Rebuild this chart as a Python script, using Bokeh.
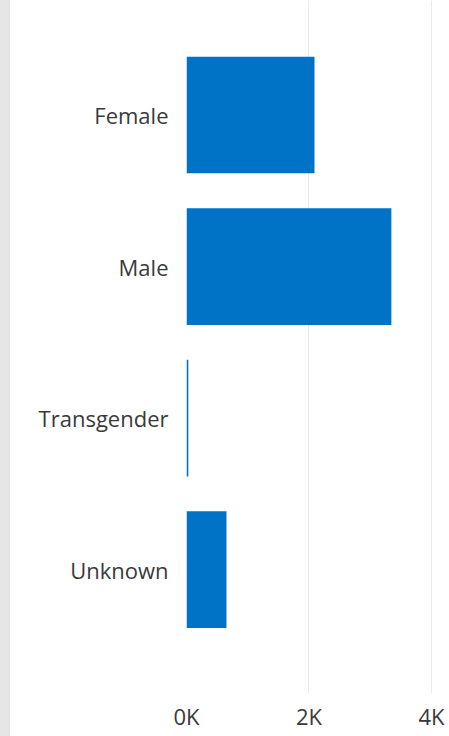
from bokeh.plotting import figure
from bokeh.models import Range1d, FixedTicker, ColumnDataSource
from bokeh.embed import file_html
from bokeh.resources import INLINE

categories = ["Female", "Male", "Transgender", "Unknown"]
counts = [2090, 3345, 30, 653]
x_ticks = [0, 2000, 4000]
x_tick_labels = ["0K", "2K", "4K"]

pos = list(range(len(categories)))
src = ColumnDataSource(dict(y=pos, right=counts, cat=categories))

p = figure(width=449, height=736, output_backend="svg", toolbar_location=None,
           x_range=Range1d(0, 4294), y_range=Range1d(3.818, -0.756),
           min_border_left=186, min_border_right=0, min_border_top=0, min_border_bottom=43)
p.outline_line_color = None
p.background_fill_color = "white"
p.border_fill_color = None
p.styles = {"background": "linear-gradient(to right, #e6e6e6 0px, #e6e6e6 10px, #ffffff 10px)"}

p.hbar(y="y", left=0, right="right", height=0.77, source=src,
       fill_color="#0073C6", line_color=None)

# x axis
p.xaxis.ticker = FixedTicker(ticks=x_ticks)
p.xaxis.major_label_overrides = {t: l for t, l in zip(x_ticks, x_tick_labels)}
p.xaxis.axis_line_color = None
p.xaxis.major_tick_line_color = None
p.xaxis.minor_tick_line_color = None
p.xaxis.major_tick_out = 0
p.xaxis.major_tick_in = 0
p.xaxis.major_label_standoff = 7
p.xaxis.major_label_text_font = "Open Sans"
p.xaxis.major_label_text_font_size = "22px"
p.xaxis.major_label_text_color = "#3a3a3a"

# y axis
p.yaxis.ticker = FixedTicker(ticks=pos)
p.yaxis.major_label_overrides = {i: c for i, c in zip(pos, categories)}
p.yaxis.axis_line_color = None
p.yaxis.major_tick_line_color = None
p.yaxis.minor_tick_line_color = None
p.yaxis.major_tick_out = 0
p.yaxis.major_tick_in = 0
p.yaxis.major_label_standoff = 18
p.yaxis.major_label_text_font = "Open Sans"
p.yaxis.major_label_text_font_size = "22px"
p.yaxis.major_label_text_color = "#3a3a3a"

p.xgrid.grid_line_color = "#EBEBEB"
p.xgrid.grid_line_width = 1
p.ygrid.grid_line_color = None

open("out.html", "w").write(file_html(p, INLINE))
